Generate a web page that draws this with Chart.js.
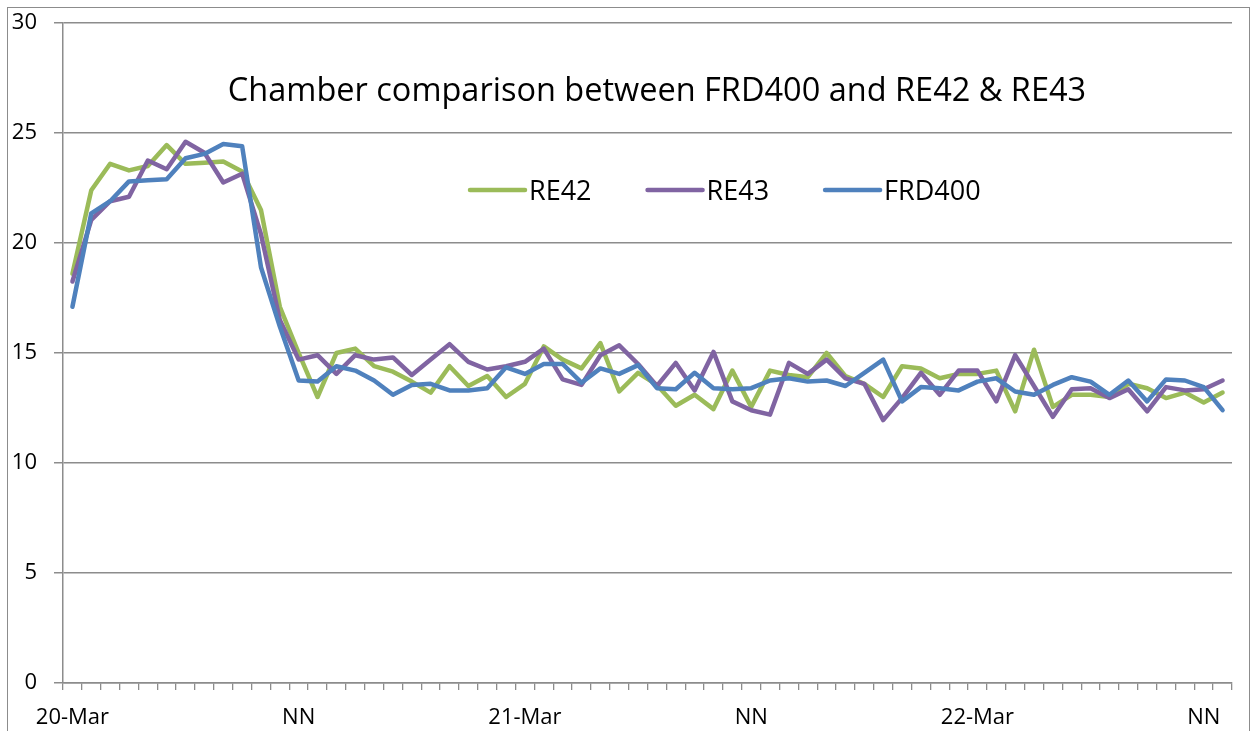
<!DOCTYPE html>
<html>
<head>
<meta charset="utf-8">
<script src="https://cdn.jsdelivr.net/npm/chart.js@4.4.1/dist/chart.umd.min.js"></script>
<style>
  html, body { margin: 0; padding: 0; background: #fff; }
  #wrap { width: 1255px; height: 731px; }
</style>
</head>
<body>
<div id="wrap"><canvas id="chamber-chart" width="1255" height="731"></canvas></div>
<script>
const titleText = 'Chamber comparison between FRD400 and RE42 & RE43';
const days = ['20-Mar', '21-Mar', '22-Mar'];

// hourly readings, 20-Mar 00:00 .. 22-Mar 13:00
const categories = [];
for (let i = 0; i < 62; i++) {
    const h = i % 24;
    categories.push(days[Math.floor(i / 24)] + ' ' + String(h).padStart(2, '0') + ':00');
}

const re42 = [18.6, 22.4, 23.6, 23.3, 23.5, 24.45, 23.6, 23.65, 23.7, 23.25,
    21.5, 17.1, 15.0, 13.0, 15.0, 15.2, 14.4, 14.15, 13.7, 13.2,
    14.4, 13.5, 13.95, 13.0, 13.6, 15.3, 14.7, 14.3, 15.45, 13.25,
    14.1, 13.55, 12.6, 13.1, 12.45, 14.2, 12.55, 14.2, 14.0, 13.9,
    15.0, 13.95, 13.6, 13.0, 14.4, 14.3, 13.85, 14.05, 14.05, 14.2,
    12.35, 15.15, 12.55, 13.1, 13.1, 13.0, 13.6, 13.4, 12.95, 13.2,
    12.75, 13.2];
const re43 = [18.25, 21.05, 21.9, 22.1, 23.75, 23.35, 24.6, 24.1, 22.75, 23.15,
    20.4, 16.5, 14.7, 14.9, 14.05, 14.9, 14.7, 14.8, 14.0, 14.7,
    15.4, 14.6, 14.25, 14.4, 14.6, 15.2, 13.8, 13.55, 14.9, 15.35,
    14.5, 13.5, 14.55, 13.3, 15.05, 12.8, 12.4, 12.2, 14.55, 14.05,
    14.7, 13.85, 13.6, 11.95, 12.95, 14.1, 13.1, 14.2, 14.2, 12.8,
    14.9, 13.5, 12.1, 13.35, 13.4, 12.95, 13.35, 12.35, 13.45, 13.3,
    13.35, 13.75];
const frd400 = [17.1, 21.35, 21.9, 22.8, 22.85, 22.9, 23.85, 24.05, 24.5, 24.4,
    18.9, 16.2, 13.75, 13.7, 14.4, 14.2, 13.75, 13.1, 13.55, 13.6,
    13.3, 13.3, 13.4, 14.35, 14.05, 14.5, 14.5, 13.65, 14.3, 14.05,
    14.45, 13.4, 13.35, 14.1, 13.4, 13.35, 13.4, 13.75, 13.85, 13.7,
    13.75, 13.5, 14.1, 14.7, 12.8, 13.45, 13.4, 13.3, 13.7, 13.85,
    13.25, 13.1, 13.55, 13.9, 13.7, 13.1, 13.75, 12.8, 13.8, 13.75,
    13.45, 12.4];

const axisGrey = '#8c8c8c';

// frame, title and legend are drawn inside the plot like the excel original
const chamberDecor = {
    id: 'chamberDecor',
    beforeDraw(chart) {
        const ctx = chart.ctx;
        ctx.save();
        ctx.strokeStyle = axisGrey;
        ctx.lineWidth = 1;
        ctx.strokeRect(7.5, 7.5, 1242, 760);
        ctx.restore();
    },
    afterDraw(chart) {
        const ctx = chart.ctx;
        ctx.save();
        ctx.fillStyle = '#000';
        ctx.font = '32.5px "Open Sans"';
        ctx.textAlign = 'center';
        ctx.textBaseline = 'alphabetic';
        ctx.fillText(titleText, 657, 101);

        ctx.font = '27px "Open Sans"';
        ctx.textAlign = 'left';
        let x = 470;
        chart.data.datasets.forEach(function (ds) {
            ctx.strokeStyle = ds.borderColor;
            ctx.lineWidth = 4.5;
            ctx.lineCap = 'round';
            ctx.beginPath();
            ctx.moveTo(x, 190);
            ctx.lineTo(x + 55, 190);
            ctx.stroke();
            ctx.fillText(ds.label, x + 59, 200);
            x += 59 + ctx.measureText(ds.label).width + 56;
        });
        ctx.restore();
    }
};

function lineSet(label, data, color, order) {
    return {
        label: label,
        data: data,
        borderColor: color,
        backgroundColor: color,
        borderWidth: 4.5,
        borderJoinStyle: 'round',
        borderCapStyle: 'round',
        pointRadius: 0,
        tension: 0,
        order: order
    };
}

const ctx = document.getElementById('chamber-chart').getContext('2d');
const chamberChart = new Chart(ctx, {
    type: 'line',
    data: {
        labels: categories,
        datasets: [
            lineSet('RE42', re42, '#9BBB59', 3),
            lineSet('RE43', re43, '#8064A2', 2),
            lineSet('FRD400', frd400, '#4F81BD', 1)
        ]
    },
    options: {
        responsive: false,
        devicePixelRatio: 1,
        animation: false,
        layout: {
            padding: {left: 0, right: 23, top: 23, bottom: 0}
        },
        plugins: {
            legend: {display: false},
            title: {display: false},
            tooltip: {enabled: false}
        },
        scales: {
            x: {
                offset: true,
                afterFit: function (scale) { scale.height = 48; },
                grid: {
                    offset: true,
                    drawOnChartArea: false,
                    drawTicks: true,
                    tickLength: 7,
                    color: axisGrey,
                    lineWidth: 1.3
                },
                border: {color: axisGrey, width: 1.5},
                ticks: {
                    autoSkip: false,
                    maxRotation: 0,
                    minRotation: 0,
                    padding: 15,
                    color: '#000',
                    font: {family: 'Open Sans', size: 22},
                    callback: function (value, index) {
                        const h = index % 24;
                        if (h === 0) return days[index / 24];
                        if (h === 12) return 'NN';
                        return '';
                    }
                }
            },
            y: {
                min: 0,
                max: 30,
                afterFit: function (scale) {
                    scale.width = 63;
                    scale.paddingTop = 0;
                    scale.paddingBottom = 0;
                },
                grid: {
                    color: axisGrey,
                    lineWidth: 1.5,
                    tickLength: 9
                },
                border: {color: axisGrey, width: 1.5},
                ticks: {
                    stepSize: 5,
                    padding: 17,
                    color: '#000',
                    font: {family: 'Open Sans', size: 22}
                }
            }
        }
    },
    plugins: [chamberDecor]
});
</script>
</body>
</html>
